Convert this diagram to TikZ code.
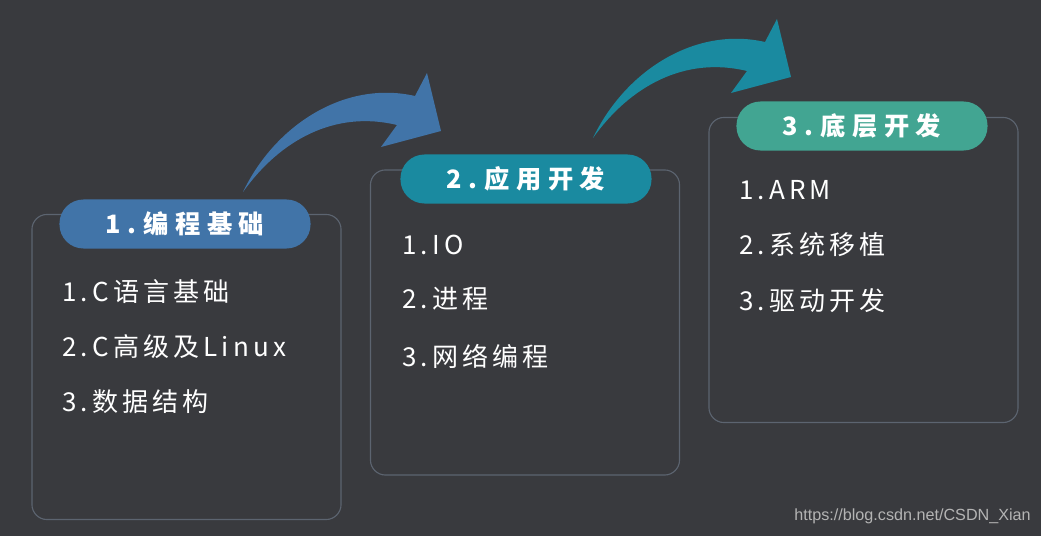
\documentclass[tikz,border=0pt]{standalone}
\usepackage{fontspec}
\newfontfamily\cjk[LetterSpace=16]{Noto Sans CJK SC}
\newfontfamily\cjkhead[LetterSpace=26]{Noto Sans CJK SC}
\newfontfamily\wmfont{Liberation Sans}
\definecolor{bgdark}{HTML}{393A3E}
\definecolor{panelgray}{HTML}{5C6470}
\definecolor{blueA}{HTML}{4174A8}
\definecolor{tealA}{HTML}{1A8AA0}
\definecolor{greenA}{HTML}{42A592}
\definecolor{wmgray}{HTML}{B4B4B4}

\begin{document}
\begin{tikzpicture}[x=0.025cm,y=-0.025cm,
  panel/.style={draw=panelgray, line width=0.8pt, rounded corners=0.375cm,
    minimum width=7.725cm, minimum height=7.625cm, inner sep=0pt},
  pill/.style={fill=#1, rounded corners=0.6cm, minimum width=6.275cm,
    minimum height=1.225cm, inner sep=0pt, text=white,
    font=\cjkhead\bfseries\fontsize{18}{18}\selectfont},
  item/.style={anchor=west, inner sep=0pt, text=white,
    font=\cjk\fontsize{18.5}{18.5}\selectfont}]
   \fill[bgdark] (0,0) rectangle (1041,536);
   % panels
   \node[panel] (p1) at (186.5,367) {};
   \node[panel] (p2) at (525,322.5) {};
   \node[panel] (p3) at (863.5,270) {};
   % curved arrows
   \foreach \dx/\dy/\col in {0/0/blueA, 350/-54/tealA}{
     \begin{scope}[shift={(\dx,\dy)}]
       \fill[\col] (243,192) .. controls (275,125) and (345,80) .. (415,96)
         -- (427,73) -- (441,131) -- (381,147) -- (397,125)
         .. controls (335,110) and (280,140) .. (243,192) -- cycle;
     \end{scope}
   }
   % headers
   \node[pill=blueA] (h1) at (185,224) {1.编程基础};
   \node[pill=tealA] (h2) at (526,179) {2.应用开发};
   \node[pill=greenA] (h3) at (862,126) {3.底层开发};
   % items
   \node[item] (a1) at (62,292) {1.C语言基础};
   \node[item] (a2) at (62,347) {2.C高级及Linux};
   \node[item] (a3) at (62,402) {3.数据结构};
   \node[item] (b1) at (402,245) {1.IO};
   \node[item] (b2) at (402,299) {2.进程};
   \node[item] (b3) at (402,356) {3.网络编程};
   \node[item] (c1) at (739,190) {1.ARM};
   \node[item] (c2) at (739,245) {2.系统移植};
   \node[item] (c3) at (739,301) {3.驱动开发};
   \node[anchor=east, inner sep=0pt, text=wmgray,
     font=\wmfont\fontsize{11.5}{11.5}\selectfont] (wm) at (1031,516) {https://blog.csdn.net/CSDN\_Xian};
\end{tikzpicture}
\end{document}
